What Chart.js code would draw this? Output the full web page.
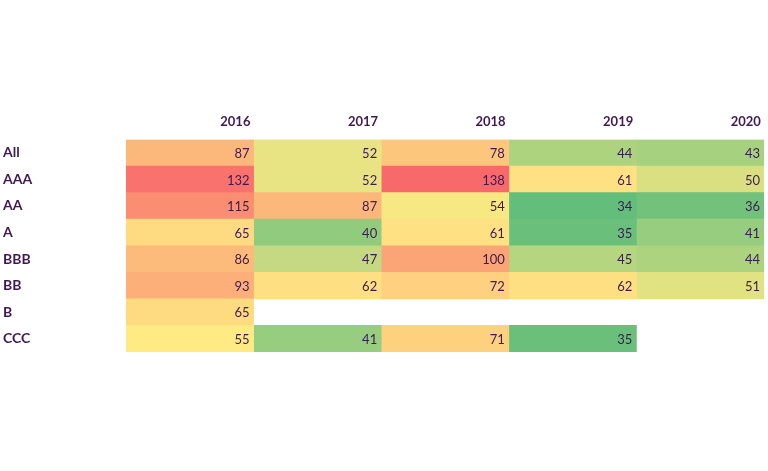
<!DOCTYPE html>
<html>
<head>
<meta charset="utf-8">
<script src="https://cdn.jsdelivr.net/npm/chart.js@4"></script>
<style>
  html, body { margin: 0; padding: 0; background: #fff; }
  #wrap { width: 768px; height: 471px; }
</style>
</head>
<body>
<div id="wrap"><canvas id="heat"></canvas></div>
<script>
const years = ['2016', '2017', '2018', '2019', '2020'];
const ratings = ['All', 'AAA', 'AA', 'A', 'BBB', 'BB', 'B', 'CCC'];

// one array per year, in the order of ratings (null = no value)
const v2016 = [87, 132, 115, 65, 86, 93, 65, 55];
const v2017 = [52, 52, 87, 40, 47, 62, null, 41];
const v2018 = [78, 138, 54, 61, 100, 72, null, 71];
const v2019 = [44, 61, 34, 35, 45, 62, null, 35];
const v2020 = [43, 50, 36, 41, 44, 51, null, null];

const series = [v2016, v2017, v2018, v2019, v2020];
const textColor = '#3f1a52';

// excel style 3 colour scale: min green, median yellow, max red
const all = series.flat().filter(v => v != null).sort((a, b) => a - b);
const vMin = all[0];
const vMax = all[all.length - 1];
const vMid = all[Math.floor(all.length / 2)];
const green = [99, 190, 123], yellow = [255, 234, 132], red = [248, 105, 107];

function mix(a, b, t) {
  return 'rgb(' + a.map((c, i) => Math.round(c + (b[i] - c) * t)).join(',') + ')';
}
function colorFor(v) {
  if (v <= vMid) return mix(green, yellow, (v - vMin) / (vMid - vMin));
  return mix(yellow, red, (v - vMid) / (vMax - vMid));
}

const valueLabels = {
  id: 'valueLabels',
  afterDatasetsDraw(chart) {
    const ctx = chart.ctx;
    ctx.save();
    ctx.font = '13px Lato';
    ctx.fillStyle = textColor;
    ctx.textAlign = 'right';
    ctx.textBaseline = 'middle';
    chart.data.datasets.forEach((ds, di) => {
      chart.getDatasetMeta(di).data.forEach((bar, i) => {
        const v = ds.values[i];
        if (v == null) return;
        ctx.fillText(String(v), bar.x - 4, bar.y + 1);
      });
    });
    ctx.restore();
  }
};

const datasets = years.map((y, c) => ({
  label: y,
  values: series[c],
  data: series[c].map(v => v == null ? null : [c, c + 1]),
  backgroundColor: (ctx) => {
    const v = series[c][ctx.dataIndex];
    return v == null ? 'rgba(0,0,0,0)' : colorFor(v);
  },
  borderWidth: 0,
  barPercentage: 1,
  categoryPercentage: 1,
  grouped: false
}));

new Chart(document.getElementById('heat'), {
  type: 'bar',
  data: { labels: ratings, datasets: datasets },
  plugins: [valueLabels],
  options: {
    indexAxis: 'y',
    responsive: true,
    maintainAspectRatio: false,
    animation: false,
    layout: { padding: { left: 3, right: 4, top: 111, bottom: 119 } },
    plugins: {
      legend: { display: false },
      tooltip: { enabled: false }
    },
    scales: {
      x: {
        type: 'linear',
        position: 'top',
        min: 0,
        max: 5,
        grid: { display: false, drawTicks: false },
        border: { display: false },
        afterBuildTicks: (axis) => {
          axis.ticks = years.map((y, i) => ({ value: i + 1 }));
        },
        afterFit: (axis) => {
          axis.height = 28.5;
          axis.paddingLeft = 0;
          axis.paddingRight = 0;
        },
        ticks: {
          align: 'end',
          padding: 9.5,
          color: textColor,
          font: { family: 'Lato', size: 13, weight: 'bold' },
          callback: (v) => years[v - 1] + ' '
        }
      },
      y: {
        grid: { display: false, drawTicks: false },
        border: { display: false },
        afterFit: (axis) => {
          axis.width = 123;
          axis.paddingTop = 0;
          axis.paddingBottom = 0;
        },
        ticks: {
          crossAlign: 'far',
          color: textColor,
          font: { family: 'Lato', size: 14, weight: 'bold' }
        }
      }
    }
  }
});
</script>
</body>
</html>
